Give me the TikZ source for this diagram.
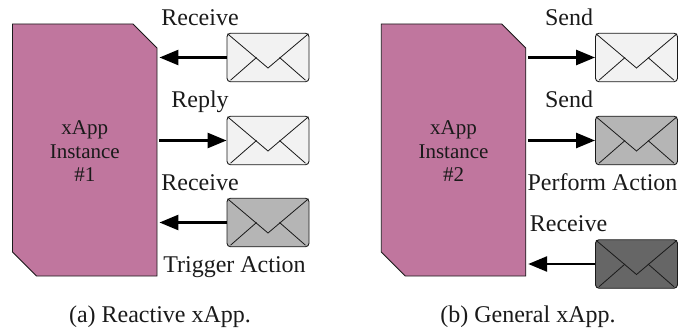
\documentclass[tikz,border=0pt]{standalone}
\usepackage{fontspec}
\setmainfont{Liberation Serif}
\usetikzlibrary{arrows.meta,shapes.misc,calc}
\definecolor{appfill}{HTML}{C0769E}
\definecolor{envlight}{HTML}{F2F2F2}
\definecolor{envmid}{HTML}{B5B5B5}
\definecolor{envdark}{HTML}{666666}
\definecolor{inkc}{HTML}{1A1A1A}
\tikzset{
  x=1pt,y=-1pt,
  appbox/.style={draw=inkc,line width=0.9pt,fill=appfill,chamfered rectangle,
    chamfered rectangle corners={north east,south west},
    chamfered rectangle xsep=12pt,chamfered rectangle ysep=12pt,
    minimum width=144.5pt,minimum height=252pt,inner sep=0pt,align=center,
    font=\fontsize{21}{23.5}\selectfont,text=inkc},
  envbox/.style={draw=inkc,line width=0.9pt,rounded corners=3.5pt,minimum width=82pt,minimum height=48.5pt,inner sep=0pt},
  envline/.style={draw=inkc,line width=0.8pt},
  flow/.style={draw=black,line width=2.6pt,-{Triangle[length=19pt,width=15pt]}},
  flowin/.style={flow,shorten >=2pt},
  flowout/.style={flow,shorten <=2pt},
  lab/.style={anchor=base,inner sep=0pt,font=\fontsize{24}{26}\selectfont,text=inkc},
  captext/.style={anchor=base,inner sep=0pt,font=\fontsize{24}{26}\selectfont,text=inkc},
}
\newcommand{\envelopeat}[4]{%
  \node[envbox,fill=#4] (#1) at (#2,#3) {};
  \draw[envline] ($(#1.north west)+(1,1)$) -- ($(#1.center)+(0,10.5)$) -- ($(#1.north east)+(-1,1)$);
  \draw[envline] ($(#1.south west)+(4,-2)$) -- ($(#1.center)+(-11.5,0)$);
  \draw[envline] ($(#1.south east)+(-4,-2)$) -- ($(#1.center)+(11.5,0)$);
}
\begin{document}
\begin{tikzpicture}
\useasboundingbox (0,0) rectangle (689,329);
\node[appbox] (app1) at (84.75,150) {\rule{0pt}{16.5pt}xApp\\Instance\\\#1};
\node[appbox] (app2) at (453.5,150) {\rule{0pt}{16.5pt}xApp\\Instance\\\#2};
\envelopeat{ea}{268}{57.5}{envlight}
\envelopeat{eb}{268}{140.5}{envlight}
\envelopeat{ec}{268}{222.5}{envmid}
\envelopeat{ed}{636.5}{57.5}{envlight}
\envelopeat{ee}{636.5}{140.5}{envmid}
\envelopeat{ef}{636.5}{264}{envdark}
\draw[flowin] (ea.west) -- (app1.east |- ea.west);
\draw[flowout] (app1.east |- eb.west) -- (eb.west);
\draw[flowin] (ec.west) -- (app1.east |- ec.west);
\draw[flowout] (app2.east |- ed.west) -- (ed.west);
\draw[flowout] (app2.east |- ee.west) -- (ee.west);
\draw[flowin] (ef.west) -- (app2.east |- ef.west);
\node[lab] (l1) at (200,25.5) {Receive};
\node[lab] (l2) at (200,107.5) {Reply};
\node[lab] (l3) at (200,190.5) {Receive};
\node[lab] (l4) at (234.5,272.5) {Trigger Action};
\node[lab] (l5) at (569,25.5) {Send};
\node[lab] (l6) at (569,107.5) {Send};
\node[lab] (l7) at (602.5,190.5) {Perform Action};
\node[lab] (l8) at (568.5,231.5) {Receive};
\node[captext] (c1) at (160,322.5) {(a) Reactive xApp.};
\node[captext] (c2) at (528,322.5) {(b) General xApp.};
\end{tikzpicture}
\end{document}
